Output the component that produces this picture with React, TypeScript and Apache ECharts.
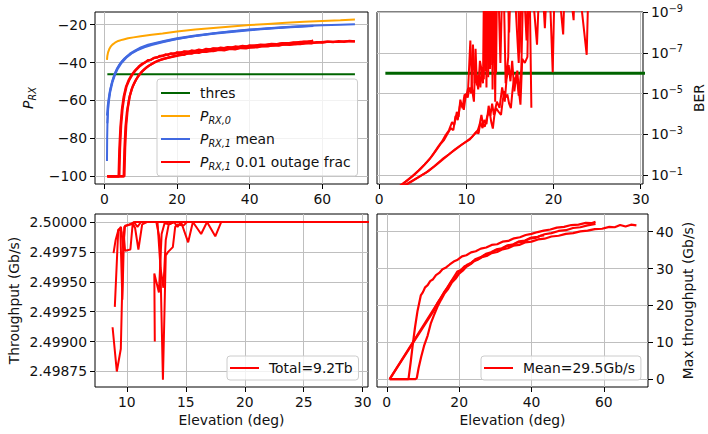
import { useEffect, useRef } from 'react';
import * as echarts from 'echarts';

// ---------- received power vs elevation (dBm) ----------
const thresDbm = -46.2;
const thresElev = [0.8, 69];

const prx0: number[][] = [
  [0.7, -38.6], [0.8, -36.5], [1.0, -34.6], [1.3, -33.0], [1.7, -31.6], [2.2, -30.5], [2.9, -29.5],
  [3.8, -28.6], [5, -27.9], [6.5, -27.2], [8, -26.7], [10, -26.1], [13, -25.3], [16, -24.6],
  [20, -23.6], [25, -22.6], [30, -21.7], [35, -20.9], [40, -20.2], [45, -19.6], [50, -19.0],
  [55, -18.5], [60, -18.0], [65, -17.6], [69, -17.2],
];

const prx1MeanA: number[][] = [
  [0.7, -92], [0.75, -80], [0.85, -70], [1.0, -64], [1.3, -58], [1.7, -53.5], [2.2, -49.5], [2.8, -46],
  [3.5, -43], [4.5, -40], [5.5, -37.8], [7, -35.3], [8.5, -33.5], [10, -32], [12, -30.6], [14, -29.6],
  [17, -28.3], [20, -27.2], [25, -25.7], [30, -24.5], [35, -23.5], [40, -22.6], [45, -21.9], [50, -21.2],
  [55, -20.7], [60, -20.3], [65, -20.0], [69, -19.8],
];
const prx1MeanB: number[][] = [
  [0.7, -68], [0.9, -63], [1.2, -58.5], [1.5, -55], [2, -51], [2.5, -48], [3.2, -44.5], [4, -41.5],
  [5, -39], [6.2, -36.8], [7.7, -34.7], [9.3, -33], [11, -31.6], [13, -30.4], [16, -29], [19, -27.8],
  [23, -26.5], [27, -25.4], [31, -24.4], [35, -23.6], [40, -22.7], [45, -22], [50, -21.3], [55, -20.8],
  [57.5, -20.6],
];
const prx1MeanC: number[][] = [
  [0.8, -72], [1.1, -62], [1.6, -55.5], [2.2, -50.5], [2.9, -46.5], [3.7, -43.2], [4.7, -40.2], [6, -37.5],
  [7.5, -35.2], [9, -33.6], [11, -31.9], [13, -30.7], [16, -29.3], [20, -27.6], [25, -26], [30, -24.8],
  [35, -23.8], [40, -22.9], [45, -22.1], [50, -21.5], [55, -21], [57.5, -20.7],
];

const prx1OutA1: number[][] = [
  [0.8, -100], [2, -100], [3.9, -100], [4.1, -86], [4.4, -74], [4.8, -65], [5.3, -58], [5.9, -53],
  [6.6, -49.5], [7.5, -46.5], [8.4, -44.2], [9.4, -42.2], [10.4, -40.6], [11.2, -39.9], [12, -38.7],
  [12.8, -38.6], [13.6, -37.5], [14.4, -37.4], [15.2, -36.5], [16, -36.6], [16.8, -35.7], [17.6, -35.9],
  [18.4, -35.1], [19.2, -35.3], [20, -34.6], [21, -34.9], [22, -34.1], [23, -34.4], [24, -33.6], [25, -33.9],
  [26, -33.2], [27, -33.5], [28, -32.8], [29, -33.1], [30, -32.5], [31, -32.7], [32, -32.1], [33, -32.4],
  [34, -31.8], [35, -32.1], [36, -31.5], [37, -31.8], [38, -31.2], [39, -31.5], [40, -30.9], [41.5, -31.1],
  [43, -30.5], [44.5, -30.7], [46, -30.1], [47.5, -30.3], [49, -29.7], [50.5, -29.9], [52, -29.3],
  [53.5, -29.5], [55, -28.9], [56.5, -29.0], [57.5, -28.4],
];
const prx1OutA2: number[][] = [
  [0.8, -100], [4.1, -100], [4.3, -85], [4.6, -73], [5.0, -64], [5.5, -57.5], [6.1, -52.5], [6.9, -49],
  [7.8, -46], [8.8, -43.7], [9.8, -41.8], [10.9, -40.3], [11.9, -39.1], [12.9, -38.4], [13.9, -37.4],
  [14.9, -37.0], [15.9, -36.3], [16.9, -36.0], [18, -35.4], [19, -35.3], [20, -34.9], [22, -34.3],
  [24, -34.1], [26, -33.5], [28, -33.3], [30, -32.7], [32, -32.6], [34, -32.1], [36, -31.9], [38, -31.4],
  [40, -31.4], [42, -30.9], [44, -30.8], [46, -30.3], [48, -30.2], [50, -29.7], [52, -29.6], [54, -29.1],
  [56, -29.0], [57.5, -28.5],
];
const prx1OutB1: number[][] = [
  [0.8, -100], [3, -100], [5.3, -100], [5.5, -86], [5.8, -74], [6.2, -66], [6.8, -59], [7.5, -54],
  [8.3, -50.5], [9.2, -47.5], [10.2, -45], [11.2, -43.2], [12.3, -41.6], [13.5, -40.2], [15, -38.8],
  [16.5, -37.9], [18, -37.1], [20, -36.2], [21, -35.6], [22, -35.9], [23, -35.1], [24, -35.3], [25, -34.6],
  [26, -34.9], [27, -34.2], [28, -34.4], [29, -33.8], [30, -34.0], [31.5, -33.3], [33, -33.5], [34.5, -32.8],
  [36, -33.0], [37.5, -32.3], [39, -32.5], [40.5, -31.8], [42, -32.0], [43.5, -31.3], [45, -31.5],
  [46.5, -30.8], [48, -31.0], [49.5, -30.4], [51, -30.6], [52.5, -30.0], [54, -30.2], [55.5, -29.6],
  [57, -29.8], [58.5, -29.2], [60, -29.4], [61.5, -28.9], [63, -29.2], [64.5, -28.7], [66, -29.0],
  [67.5, -28.6], [69, -28.8],
];
const prx1OutB2: number[][] = [
  [0.8, -100], [5.5, -100], [5.7, -85], [6.0, -73], [6.4, -64.5], [7.0, -57.5], [7.8, -52.5],
  [8.7, -49], [9.6, -46.4], [10.6, -44.2], [11.6, -42.5], [12.7, -41.1], [14, -39.7], [15.6, -38.5],
  [17.2, -37.7], [19, -36.8], [21, -36.0], [23, -35.3], [25, -34.8], [27, -34.2], [29, -33.9],
  [31.5, -33.2], [34.5, -32.8], [37.5, -32.2], [40.5, -31.9], [43.5, -31.3], [46.5, -31.1], [49.5, -30.5],
  [52.5, -30.4], [55.5, -29.9], [58.5, -29.4], [61.5, -29.0], [64.5, -29.1], [67.5, -28.7], [69, -28.8],
];

// ---------- bit error rate, stored as log10(BER) ----------
const berThresLog = -6;
const berThresElev = [0.7, 69];
const berOver = -12; // error-free samples, above the plotted range

const berA1: number[][] = [
  [1.5, -0.2], [2.2, -0.42], [3, -0.68], [3.8, -0.95], [4.5, -1.22], [5.2, -1.52], [5.8, -1.8], [6.3, -2.1],
  [6.8, -2.42], [7.2, -2.65], [7.6, -2.95], [8.0, -3.2], [8.35, -3.6], [8.6, -3.45], [8.9, -4.1],
  [9.1, -3.85], [9.3, -4.7], [9.55, -4.28], [9.78, -4.95], [10.0, -4.9], [10.2, -5.28], [10.45, -7.6],
  [10.65, -5.2], [10.86, -4.6], [11.05, -7.2], [11.2, -5.4], [11.4, -5.9], [11.6, -5.3], [11.75, -6.3],
  [11.9, -5.5], [12.05, berOver], [12.2, -6.1], [12.35, berOver], [12.5, -5.8], [12.65, berOver],
  [12.8, -6.4], [12.95, berOver], [13.1, -7.2], [13.25, berOver], [13.4, -6.0], [13.55, berOver],
  [13.9, -6.5], [14.2, berOver], [14.5, -5.5], [14.8, -6.8], [15.0, berOver], [15.3, berOver],
  [16.0, -6.5], [16.4, berOver], [16.9, -7.6], [17.2, berOver], [18.1, -7.4], [18.5, berOver],
  [19.0, -8.2], [19.4, berOver], [19.9, -6.05], [20.2, berOver], [21.1, -7.9], [21.4, berOver],
  [22.3, -8.6], [22.5, berOver], [23.8, -6.9], [24.1, berOver], [31, berOver],
];
const berA2: number[][] = [
  [1.6, -0.2], [2.4, -0.45], [3.2, -0.72], [4, -1.0], [4.7, -1.28], [5.4, -1.6], [6, -1.9], [6.5, -2.2],
  [7.0, -2.5], [7.4, -2.7], [7.8, -3.0], [8.2, -3.3], [8.5, -3.2], [8.75, -3.9], [9.0, -3.7], [9.25, -4.4],
  [9.5, -4.5], [9.7, -4.2], [9.95, -5.0], [10.15, -4.8], [10.35, -5.3], [10.55, -5.0], [10.75, -7.4],
  [10.95, -5.5], [11.15, -5.8], [11.35, -5.2], [11.55, -6.6], [11.8, -6.0], [12.0, -5.7], [12.15, berOver],
  [12.3, -5.3], [12.45, berOver], [12.7, -6.2], [12.85, berOver], [13.0, -5.2], [13.15, berOver],
  [13.3, -4.6], [13.45, berOver], [14.6, berOver], [14.9, -8.0], [15.2, berOver], [15.8, berOver],
  [16.1, -7.0], [16.5, berOver], [31, berOver],
];
const berB1: number[][] = [
  [1.8, -0.2], [2.55, -0.4], [3.5, -0.65], [4.5, -0.9], [5.36, -1.12], [6.3, -1.43], [7.23, -1.78],
  [8.0, -2.02], [8.73, -2.28], [9.3, -2.45], [9.85, -2.6], [10.4, -2.75], [10.97, -3.03], [11.3, -3.2],
  [11.5, -3.45], [11.72, -3.95], [11.9, -3.5], [12.1, -3.37], [12.4, -3.9], [12.66, -4.12], [12.85, -3.6],
  [13.03, -3.28], [13.2, -3.9], [13.4, -4.28], [13.7, -4.1], [13.97, -3.95], [14.15, -4.6], [14.34, -5.12],
  [14.5, -4.8], [14.7, -4.95], [14.9, -4.5], [15.1, -4.28], [15.3, -5.2], [15.47, -5.78], [15.65, -5.5],
  [15.84, -6.12], [16.0, -5.2], [16.2, -4.45], [16.4, -6.7], [16.7, -6.5], [17.0, -6.8], [17.2, berOver],
  [17.45, -4.3],
];
const berB2: number[][] = [
  [1.9, -0.2], [2.7, -0.42], [3.7, -0.68], [4.7, -0.95], [5.6, -1.18], [6.5, -1.48], [7.4, -1.8],
  [8.2, -2.08], [8.9, -2.3], [9.5, -2.5], [10.1, -2.68], [10.6, -2.85], [11.1, -3.1], [11.4, -3.05],
  [11.6, -3.6], [11.85, -3.3], [12.05, -3.7], [12.3, -3.5], [12.55, -4.4], [12.75, -3.9], [12.95, -4.5],
  [13.15, -3.95], [13.5, -4.6], [13.8, -4.3], [14.1, -5.3], [14.4, -4.6], [14.6, -5.7], [14.85, -6.4],
  [15.05, -5.6], [15.25, -6.6], [15.5, -5.1], [15.75, -6.0], [16.0, -4.9], [16.3, -6.2], [16.6, berOver],
  [17.0, berOver],
];

// ---------- throughput (Gb/s) ----------
const tpA: number[][] = [
  [8.79, 2.49912], [9.15, 2.49875], [9.49, 2.49894], [9.72, 2.49992], [9.85, 2.49976], [10.3, 2.49977],
  [10.5, 2.49999], [10.7, 2.49995], [10.98, 2.49977], [11.3, 2.49998], [11.7, 2.5], [13, 2.5], [20, 2.5], [31, 2.5],
];
const tpB: number[][] = [
  [8.87, 2.49974], [9.05, 2.49985], [9.3, 2.49994], [9.45, 2.49993], [9.62, 2.49935], [9.78, 2.49996],
  [10, 2.49997], [10.4, 2.49998], [10.6, 2.5], [10.9, 2.49996], [11.2, 2.5], [31, 2.5],
];
const tpC: number[][] = [
  [8.98, 2.49929], [9.27, 2.49993], [9.5, 2.49996], [9.7, 2.49978], [9.85, 2.49997], [10.2, 2.49998],
  [10.7, 2.5], [31, 2.5],
];
const tpD: number[][] = [
  [12.37, 2.499], [12.33, 2.49957], [12.72, 2.49941], [12.95, 2.4999], [13.2, 2.49999], [13.6, 2.49998],
  [14.0, 2.5], [14.3, 2.49996], [14.6, 2.5], [15.2, 2.49983], [15.6, 2.5], [16.3, 2.4999], [16.8, 2.5],
  [17.5, 2.49988], [18, 2.5], [31, 2.5],
];
const tpE: number[][] = [
  [12.5, 2.5], [12.8, 2.49985], [13.06, 2.49868], [13.3, 2.49972], [13.5, 2.49975], [13.9, 2.49979],
  [14.1, 2.49996], [14.3, 2.49998], [14.8, 2.49997], [15.1, 2.5], [31, 2.5],
];
const tpF: number[][] = [
  [12.6, 2.5], [12.85, 2.49962], [13.1, 2.49945], [13.3, 2.49985], [13.55, 2.49998], [14, 2.5], [31, 2.5],
];

// ---------- max throughput (Gb/s) ----------
const maxTp1: number[][] = [
  [0.8, 0], [2.5, 0], [4.5, 0], [6.0, 0], [6.6, 4.5], [7.2, 9.5], [7.8, 14], [8.5, 18.5], [9.4, 22.7],
  [10, 23.6], [10.6, 24.9], [11.3, 25.5], [12, 26.6], [12.8, 27.1], [13.6, 28.2], [14.5, 28.8], [15.4, 29.8],
  [16.4, 30.3], [17.4, 31.1], [18.5, 31.9], [19.6, 32.4], [20.8, 33.3], [22, 33.6], [23.3, 34.4],
  [24.6, 34.7], [26, 35.4], [27.5, 35.7], [29, 36.4], [30.5, 36.6], [32, 37.3], [33.6, 37.5], [35.2, 38.2],
  [36.8, 38.5], [38.4, 39.1], [40, 39.4], [41.7, 39.9], [43.4, 40.3], [45.2, 40.6], [47, 41.1], [49, 41.3],
  [51, 41.8], [53, 41.9], [55, 42.4], [56.5, 42.3], [57.7, 42.7],
];
const maxTp2: number[][] = [
  [0.8, 0], [3, 0], [5.5, 0], [8.0, 0], [8.3, 0.3], [8.8, 3], [9.5, 6], [10.3, 9], [11.3, 11.8],
  [12.2, 15.2], [13, 17.2], [14, 19.6], [15, 21.5], [16, 23.3], [17, 24.5], [18, 26.2], [19, 27.2],
  [20, 28.6], [21, 29.4], [22, 30.5], [23.2, 31.2], [24.4, 32.2], [25.6, 32.7], [27, 33.6], [28.4, 34],
  [30, 34.9], [31.5, 35.2], [33, 36], [34.6, 36.3], [36.2, 37.1], [37.8, 37.3], [39.4, 38.1], [41, 38.3],
  [42.5, 38.9], [43.5, 39],
];
const maxTp3: number[][] = [
  [0.8, 0], [19.5, 29.2], [20.5, 29.6], [21.5, 30.6], [22.6, 31], [23.8, 31.9], [25, 32.3], [26.3, 33.1],
  [27.6, 33.4], [29, 34.2], [30.5, 34.5], [32, 35.2], [33.5, 35.5], [35, 36.2], [36.6, 36.4], [38.2, 37.1],
  [40, 37.3], [41.8, 37.9], [43.6, 38.1], [45.5, 38.7], [47.5, 38.9], [49.5, 39.4], [51.5, 39.6],
  [53.5, 40.1], [55.5, 40.3], [57.5, 40.7], [59.5, 40.8], [61.5, 41.3], [63, 41.2], [64.5, 41.8],
  [66, 41.4], [67.5, 41.9], [69, 41.7],
];
const maxTp4: number[][] = [
  [0.8, 0], [13, 18.6], [14, 20.6], [15, 22.1], [16, 23.8], [17, 25.1], [18, 26.7], [19, 27.6], [20, 29],
  [21, 29.8], [22.2, 31], [23.4, 31.6], [24.6, 32.6], [26, 33.1], [27.4, 34], [28.8, 34.4], [30.3, 35.2],
  [31.8, 35.5], [33.4, 36.3], [35, 36.6], [36.6, 37.4], [38.2, 37.6], [40, 38.4], [41.8, 38.6],
  [43.6, 39.3], [45.5, 39.6], [47.5, 40.2], [49.5, 40.4], [51.5, 41], [53.5, 41.2], [55.5, 41.7],
  [57.7, 42.1],
];

// ---------- tick values ----------
const ticksPowerX = [0, 20, 40, 60];
const ticksPowerY = [-100, -80, -60, -40, -20];
const ticksBerX = [0, 10, 20, 30];
const ticksBerY = [-9, -7, -5, -3, -1];
const ticksTpX = [10, 15, 20, 25, 30];
const ticksTpY = [2.49875, 2.499, 2.49925, 2.4995, 2.49975, 2.5];
const ticksMaxX = [0, 20, 40, 60];
const ticksMaxY = [0, 10, 20, 30, 40];

const totalLabel = 'Total=9.2Tb';
const meanLabel = 'Mean=29.5Gb/s';

const FONT = 'DejaVu Sans';
const FS = 13.9;
const SUB = 9.7;
const TXT = '#111111';
const GRID_C = '#bfbfbf';
const GREEN = '#006400';
const ORANGE = '#FFA500';
const BLUE = '#4169E1';
const RED = '#FF0000';

const minus = (v: number) => (v < 0 ? '\u2212' + Math.abs(v) : String(v));

const subRich = {
  i: { fontStyle: 'italic', fontSize: FS, fontFamily: FONT, lineHeight: 18, color: TXT },
  s: { fontStyle: 'italic', fontSize: SUB, fontFamily: FONT, lineHeight: 10, verticalAlign: 'bottom', color: TXT },
  n: { fontSize: FS, fontFamily: FONT, lineHeight: 18, color: TXT },
};

function axis(gridIndex: number, min: number, max: number, ticks: number[], fmt: (v: number) => string, extra: any = {}) {
  return {
    type: 'value',
    gridIndex,
    min,
    max,
    axisLine: { show: false, onZero: false },
    axisTick: { show: true, inside: false, length: 5, lineStyle: { color: '#000', width: 1 }, customValues: ticks },
    axisLabel: {
      show: true, customValues: ticks, formatter: fmt, margin: 8, color: TXT, fontFamily: FONT, fontSize: FS,
      ...(extra.axisLabel || {}),
    },
    splitLine: { show: true, lineStyle: { color: GRID_C, width: 1 } },
    ...extra.rest,
  };
}

function line(name: string, data: number[][], color: string, idx: number, width = 2) {
  return {
    type: 'line', name, data, xAxisIndex: idx, yAxisIndex: idx, color,
    showSymbol: false, symbol: 'none', clip: true, z: 3,
    lineStyle: { color, width }, emphasis: { disabled: true },
  };
}

const legendBase = {
  orient: 'vertical',
  backgroundColor: 'rgba(255,255,255,0.8)',
  borderColor: '#cccccc',
  borderWidth: 1,
  borderRadius: 3,
  icon: 'rect',
  itemWidth: 29,
  itemHeight: 2,
  selectedMode: false,
};

const legendNames: Record<string, string> = {
  thres: '{n|thres}',
  prx0: '{i|P}{s|RX,0}',
  prx1mean: '{i|P}{s|RX,1}{n| mean}',
  prx1out: '{i|P}{s|RX,1}{n| 0.01 outage frac}',
};

const axisName = { color: TXT, fontSize: FS, fontFamily: FONT, lineHeight: 16 };

const option: any = {
  animation: false,
  textStyle: { fontFamily: FONT },
  grid: [
    { left: 95, top: 12, width: 273, height: 172 },
    { left: 377, top: 12, width: 271, height: 172 },
    { left: 95, top: 214, width: 273, height: 173 },
    { left: 377, top: 214, width: 271, height: 173 },
  ].map((g) => ({ ...g, show: true, borderColor: '#000', borderWidth: 1, backgroundColor: 'transparent' })),
  xAxis: [
    axis(0, -2.6, 72.6, ticksPowerX, minus),
    axis(1, -0.26, 30.26, ticksBerX, minus),
    axis(2, 7.3, 30.45, ticksTpX, minus, {
      rest: { name: 'Elevation (deg)', nameLocation: 'middle', nameGap: 25, nameTextStyle: axisName },
    }),
    axis(3, -2.7, 72.2, ticksMaxX, minus, {
      rest: { name: 'Elevation (deg)', nameLocation: 'middle', nameGap: 25, nameTextStyle: axisName },
    }),
  ],
  yAxis: [
    axis(0, -104.1, -13.3, ticksPowerY, minus, {
      rest: {
        name: '{i|P}{s|RX}', nameLocation: 'middle', nameRotate: 90, nameGap: 58,
        nameTextStyle: { rich: subRich },
      },
    }),
    axis(1, -9, -0.56, ticksBerY, (v: number) => `{b|10}{p|${minus(v)}}`, {
      axisLabel: {
        rich: {
          b: { fontSize: FS, fontFamily: FONT, lineHeight: 18, color: TXT },
          p: { fontSize: SUB, fontFamily: FONT, lineHeight: 10, verticalAlign: 'top', color: TXT },
        },
      },
      rest: {
        position: 'right', inverse: true, name: 'BER', nameLocation: 'middle', nameRotate: 90, nameGap: 48,
        nameTextStyle: axisName,
      },
    }),
    axis(2, 2.49862, 2.500067, ticksTpY, (v: number) => v.toFixed(5), {
      rest: {
        name: 'Throughput (Gb/s)', nameLocation: 'middle', nameRotate: 90, nameGap: 73,
        nameTextStyle: axisName,
      },
    }),
    axis(3, -2.15, 44.8, ticksMaxY, minus, {
      rest: {
        position: 'right', name: 'Max throughput (Gb/s)', nameLocation: 'middle', nameRotate: 90, nameGap: 32,
        nameTextStyle: axisName,
      },
    }),
  ],
  legend: [
    {
      ...legendBase, left: 157, top: 79, padding: [5, 7, 5, 4], itemGap: 5,
      data: ['thres', 'prx0', 'prx1mean', 'prx1out'],
      formatter: (n: string) => legendNames[n],
      textStyle: { color: TXT, fontSize: FS, fontFamily: FONT, lineHeight: 18, padding: [0, 0, 0, 5], rich: subRich },
    },
    {
      ...legendBase, left: 227, top: 356, padding: [4, 6, 4, 3],
      data: [totalLabel],
      textStyle: { color: TXT, fontSize: FS, fontFamily: FONT, lineHeight: 16, padding: [0, 0, 0, 5] },
    },
    {
      ...legendBase, left: 481, top: 356, padding: [4, 6, 4, 3],
      data: [meanLabel],
      textStyle: { color: TXT, fontSize: FS, fontFamily: FONT, lineHeight: 16, padding: [0, 0, 0, 5] },
    },
  ],
  series: [
    line('thres', thresElev.map((x) => [x, thresDbm]), GREEN, 0),
    line('prx0', prx0, ORANGE, 0),
    line('prx1mean', prx1MeanA, BLUE, 0),
    line('prx1mean', prx1MeanB, BLUE, 0),
    line('prx1mean', prx1MeanC, BLUE, 0),
    line('prx1out', prx1OutA1, RED, 0, 2.3),
    line('prx1out', prx1OutA2, RED, 0, 2.3),
    line('prx1out', prx1OutB1, RED, 0, 2.3),
    line('prx1out', prx1OutB2, RED, 0, 2.3),

    line('berThres', berThresElev.map((x) => [x, berThresLog]), GREEN, 1, 3),
    line('ber', berA1, RED, 1),
    line('ber', berA2, RED, 1),
    line('ber', berB1, RED, 1),
    line('ber', berB2, RED, 1),

    line(totalLabel, tpA, RED, 2),
    line(totalLabel, tpB, RED, 2),
    line(totalLabel, tpC, RED, 2),
    line(totalLabel, tpD, RED, 2),
    line(totalLabel, tpE, RED, 2),
    line(totalLabel, tpF, RED, 2),

    line(meanLabel, maxTp1, RED, 3, 2.2),
    line(meanLabel, maxTp2, RED, 3, 2.2),
    line(meanLabel, maxTp3, RED, 3, 2.2),
    line(meanLabel, maxTp4, RED, 3, 2.2),
  ],
};

export default function App() {
  const ref = useRef<HTMLDivElement>(null);
  useEffect(() => {
    document.body.style.margin = '0';
    const chart = echarts.init(ref.current!, undefined, { renderer: 'svg' });
    chart.setOption(option);
    return () => chart.dispose();
  }, []);
  return <div ref={ref} style={{ width: 708, height: 434 }} />;
}
